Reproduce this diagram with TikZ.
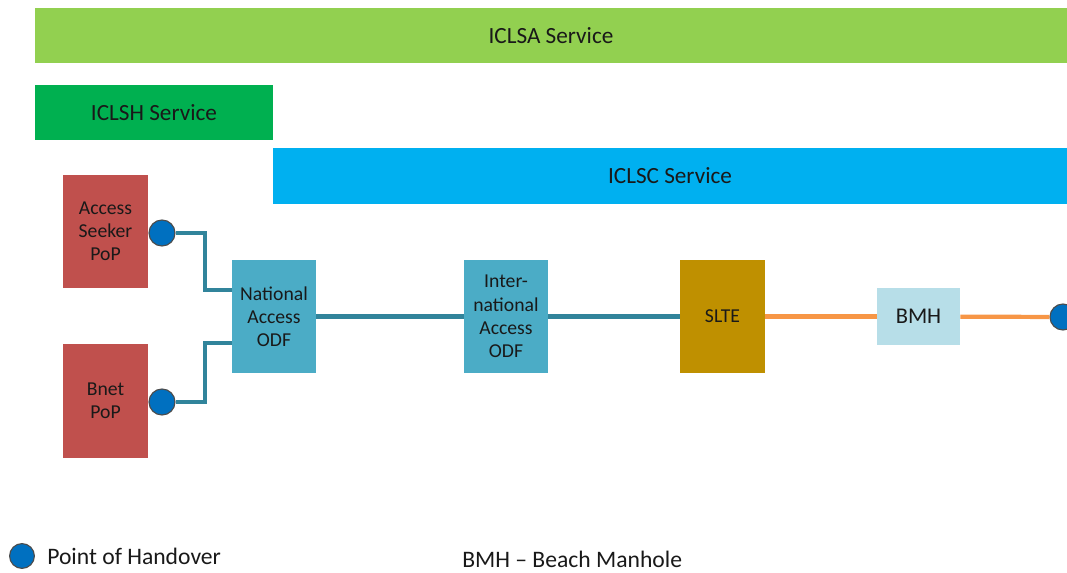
\documentclass[tikz,border=0pt]{standalone}
\usepackage{fontspec}
\setmainfont{Carlito}
\usepackage{tikz}

\definecolor{iclsa}{HTML}{92D050}
\definecolor{iclsh}{HTML}{00B050}
\definecolor{iclsc}{HTML}{00B0F0}
\definecolor{popred}{HTML}{C0504D}
\definecolor{odfblue}{HTML}{4BACC6}
\definecolor{sltegold}{HTML}{BF9000}
\definecolor{bmhblue}{HTML}{B7DEE8}
\definecolor{fibre}{HTML}{31849B}
\definecolor{subsea}{HTML}{F79646}
\definecolor{handover}{HTML}{0070C0}

\begin{document}
\begin{tikzpicture}[x=0.025cm, y=-0.025cm,
  every node/.style={inner sep=0pt, align=center, text=black!90, font=\fontsize{14}{16.5}\selectfont},
  bar/.style={minimum height=1.39cm, font=\fontsize{16.5}{18}\selectfont},
  site/.style={minimum width=2.1cm, minimum height=2.83cm},
  pho/.style={circle, fill=handover, draw=black!70, line width=0.8pt, minimum size=0.65cm},
  link/.style={draw=fibre, line width=3pt},
  sealink/.style={draw=subsea, line width=3pt}]
  \clip (0,0) rectangle (1067,573);
  \node (a) [bar, fill=iclsa, minimum width=25.8cm] at (551,35.5) {ICLSA Service};
  \node (h) [bar, fill=iclsh, minimum width=5.95cm] at (154,112.5) {ICLSH Service};
  \node (c) [bar, fill=iclsc, minimum width=19.85cm] at (670,176) {ICLSC Service};
  \node (seeker) [site, fill=popred] at (105.5,231.5) {Access\\Seeker\\PoP};
  \node (bnet) [site, fill=popred] at (105.5,401) {Bnet\\PoP};
  \node (nat) [site, fill=odfblue] at (274,316.5) {National\\Access\\ODF};
  \node (intl) [site, fill=odfblue] at (506,316.5) {Inter-\\national\\Access\\ODF};
  \node (slte) [site, fill=sltegold, font=\fontsize{14}{16}\selectfont] at (722.5,316.5) {SLTE};
  \node (bmh) [fill=bmhblue, minimum width=2.075cm, minimum height=1.425cm, font=\fontsize{16}{18}\selectfont] at (918.5,316.5) {BMH};
  \node (p1) [pho] at (162,233) {};
  \node (p2) [pho] at (162,402) {};
  \node (p3) [pho] at (1063,317) {};
  \draw[link] (p1) -- (205,233) |- ([yshift=0.66cm]nat.west);
  \draw[link] (p2) -- (205,402) |- ([yshift=-0.66cm]nat.west);
  \draw[link] (nat) -- (intl);
  \draw[link] (intl) -- (slte);
  \draw[sealink] (slte) -- (bmh);
  \draw[sealink] (bmh) -- (p3);
  \node (key) [pho, minimum size=0.62cm] at (22,556) {};
  \node (keytext) [anchor=west, font=\fontsize{16.8}{18}\selectfont] at (47,556) {Point of Handover};
  \node (bmhtext) [anchor=west, font=\fontsize{16.8}{18}\selectfont] at (462,559) {BMH – Beach Manhole};
\end{tikzpicture}
\end{document}
